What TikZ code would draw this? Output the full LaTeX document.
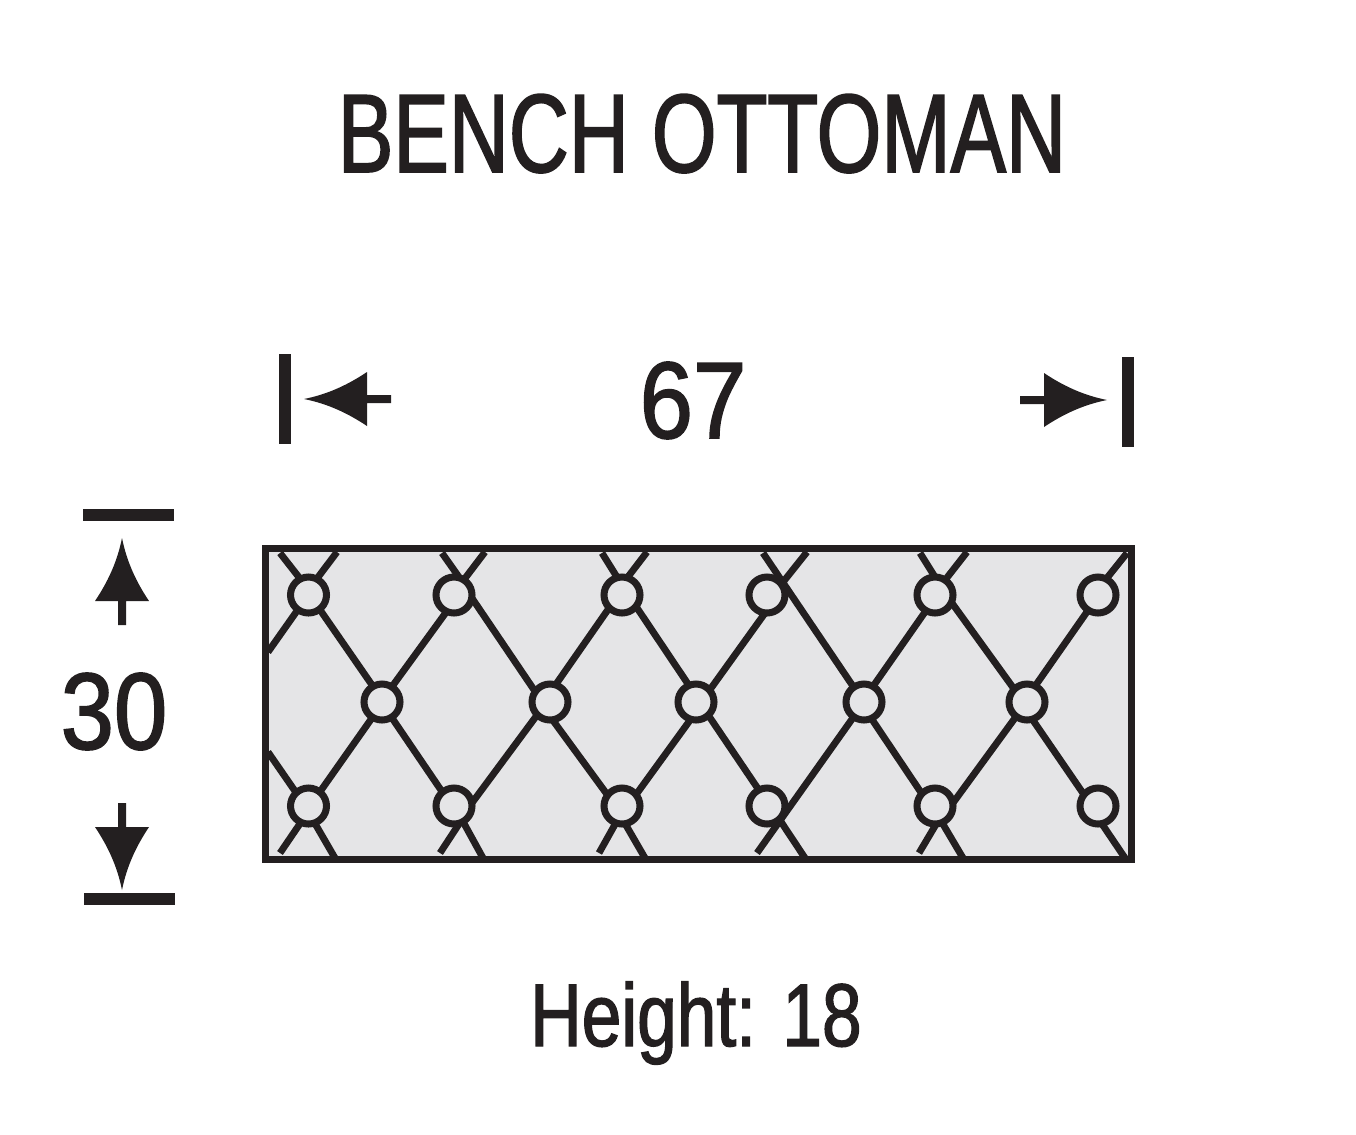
\documentclass[tikz,border=0pt]{standalone}
\usepackage{fontspec}
\newfontfamily\titlefont[FakeStretch=.745,FakeBold=1.5]{Liberation Sans}
\newfontfamily\digitfont[FakeStretch=.88,FakeBold=1.5]{Liberation Sans}
\newfontfamily\notefont[FakeStretch=.8,FakeBold=1.5]{Liberation Sans}
\definecolor{inkdark}{HTML}{231F20}
\definecolor{seatgrey}{HTML}{E5E5E7}
\tikzset{
	button/.style={circle,draw=inkdark,fill=seatgrey,line width=4pt,minimum size=.72cm,inner sep=0pt,outer sep=0pt},
	tuft/.style={draw=inkdark,line width=3.9pt},
	bar/.style={draw=inkdark,line width=6.3pt},
	label/.style={inkdark,anchor=base,inner sep=0pt}
}
%Mũi tên: đỉnh tại gốc, hướng sang trái
\def\A{ (0,0) .. controls (25,-5) and (45,-15) .. (63,-27) -- (63,-4) -- (87,-4) -- (87,4) -- (63,4) -- (63,27) .. controls (45,15) and (25,5) .. (0,0) -- cycle;}
\begin{document}
\begin{tikzpicture}[x=.02cm,y=-.02cm]
	\useasboundingbox (0,0) rectangle (1356,1134);
	%Chữ
	\node[label] (title) at (702,172) {\titlefont\fontsize{63.5}{70}\selectfont BENCH OTTOMAN};
	\node[label] (width) at (693,438) {\digitfont\fontsize{62}{68}\selectfont 67};
	\node[label] (depth) at (114,749) {\digitfont\fontsize{62}{68}\selectfont 30};
	\node[label] (height) at (696,1046) {\notefont\fontsize{50.7}{56}\selectfont Height: 18};
	%Mặt ghế
	\draw[draw=inkdark,fill=seatgrey,line width=4.2pt] (265.5,548.5) rectangle (1131.5,859.5);
	%Nút
	\foreach \n/\x in {1/308.5,2/454,3/622,4/767,5/935,6/1098}{
		\node[button] (t\n) at (\x,595) {};
		\node[button] (b\n) at (\x,806) {};
	}
	\foreach \n/\x in {1/382,2/550,3/696,4/864,5/1027}{
		\node[button] (m\n) at (\x,702) {};
	}
	%Đường chéo
	\foreach \p/\a/\q/\b in {t1/-52/m1/120,t2/-114/m1/57,t2/-9/m2/145,t3/-135/m2/72,t3/-39/m3/113,t4/-96/m3/41,
		t5/-120/m4/60,t5/-24/m5/135,t6/-123/m5/63,
		b1/51/m1/-122,b2/130/m1/-58,b2/9/m2/-135,b3/143/m2/-82,b3/39/m3/-107,b4/117/m3/-47,
		b5/137/m4/-66,b5/9/m5/-127,b6/141/m5/-73}{
		\draw[tuft] (\p.\a) -- (\q.\b);
	}
	%Đoạn ra mép
	\foreach \s/\n/\a/\x/\y in {a/t1/117/280/553,b/t1/63/337/552,c/t1/-126/268/652,d/t2/72/442/553,e/t2/57/485/552,
		f/t3/105/602/553,g/t3/73/647/552,i/t4/37/807/552,j/t5/90/920/553,k/t5/56/967/552,l/t6/63/1127/553,
		m/b1/133/268/752,n/b1/-115/280/853,o/b1/-70/335/858,p/b2/-72/440/853,q/b2/-60/483/858,
		r/b3/-110/599/853,u/b3/-80/645/858,w/b4/-47/805/858,x/b5/-86/919/853,y/b5/-67/963/858,z/b6/-78/1125/858}{
		\coordinate (s\s) at (\x,\y);
		\draw[tuft] (\n.\a) -- (s\s);
	}
	%Hai đường thẳng vắt qua nút
	\coordinate (sh) at (763,553);
	\coordinate (sv) at (757,853);
	\draw[tuft] (sh) -- (m4.125);
	\draw[tuft] (sv) -- (m4.-125);
	%Kích thước
	\draw[bar] (285,354) -- (285,444);
	\draw[bar] (1128,357) -- (1128,447);
	\draw[bar] (83,515) -- (174,515);
	\draw[bar] (84,899) -- (175,899);
	\fill[inkdark,shift={(304,399)}] \A
	\fill[inkdark,shift={(1107,400)},rotate=180] \A
	\fill[inkdark,shift={(122,538)},rotate=-90] \A
	\fill[inkdark,shift={(122,890)},rotate=90] \A
\end{tikzpicture}
\end{document}
